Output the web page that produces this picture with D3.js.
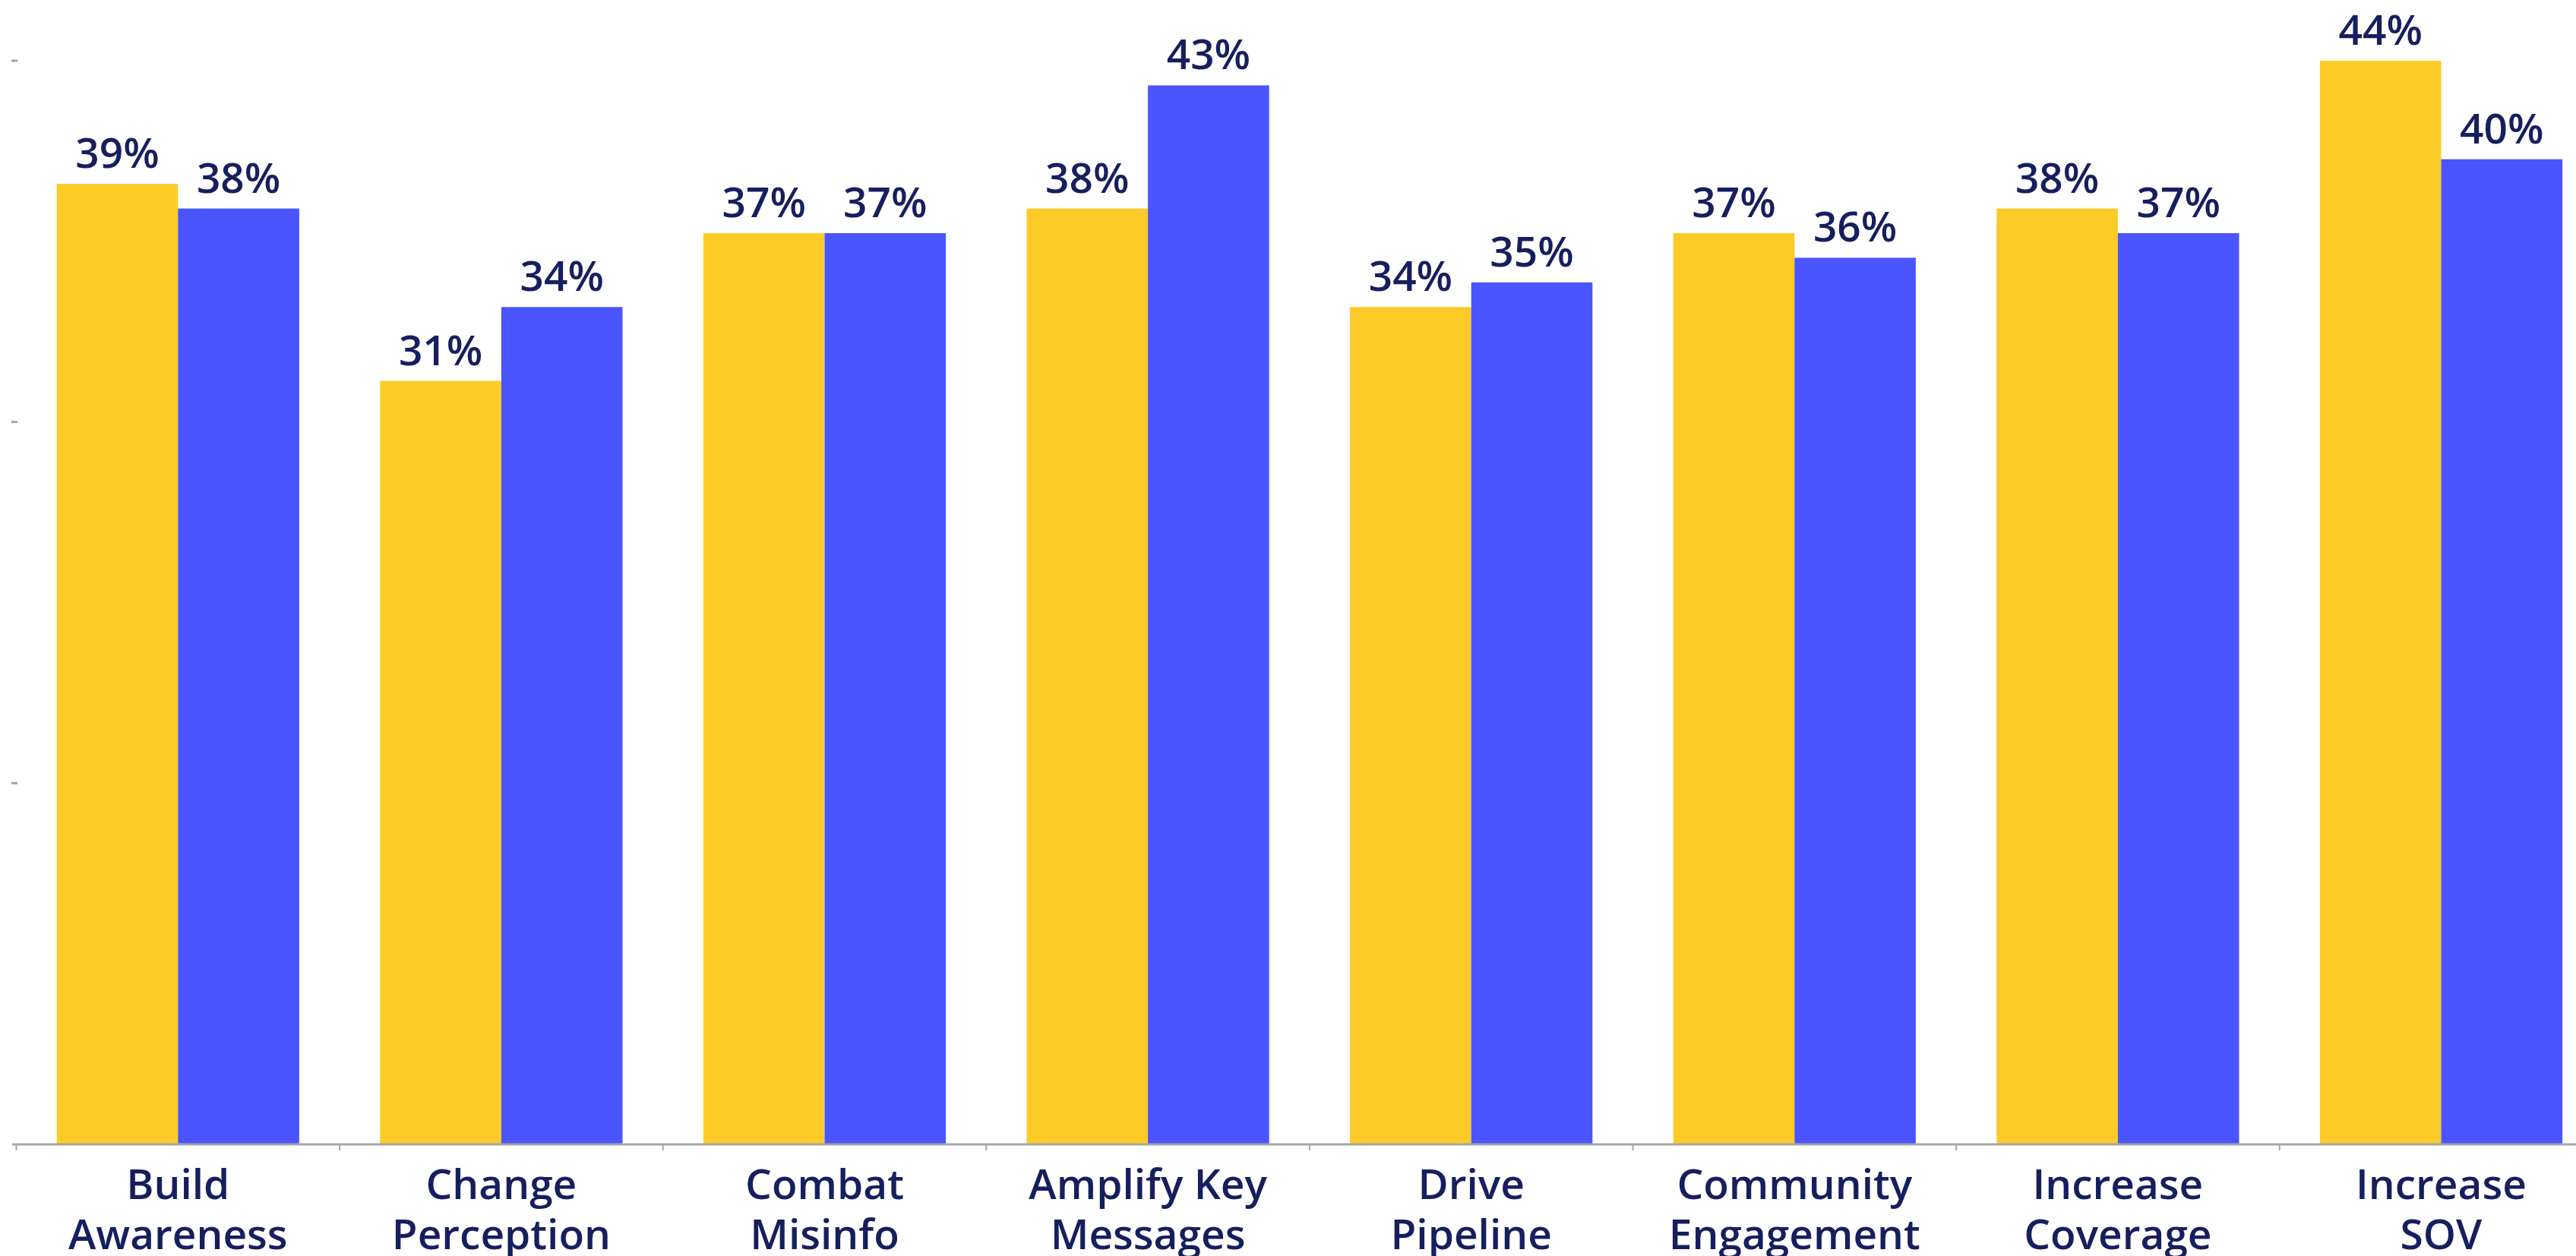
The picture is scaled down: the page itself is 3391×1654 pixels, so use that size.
<!DOCTYPE html>
<html>
<head>
<meta charset="utf-8">
<script src="https://cdn.jsdelivr.net/npm/d3@7"></script>
<style>
  html, body { margin: 0; padding: 0; background: #fff; }
  svg { display: block; }
</style>
</head>
<body>
<div id="chart"></div>
<script>
// data
var categories = [
  ["Build", "Awareness"],
  ["Change", "Perception"],
  ["Combat", "Misinfo"],
  ["Amplify Key", "Messages"],
  ["Drive", "Pipeline"],
  ["Community", "Engagement"],
  ["Increase", "Coverage"],
  ["Increase", "SOV"]
];
var seriesA = [0.39, 0.31, 0.37, 0.38, 0.34, 0.37, 0.38, 0.44];
var seriesB = [0.38, 0.34, 0.37, 0.43, 0.35, 0.36, 0.37, 0.40];
var seriesNames = ["a", "b"];
var colors = ["#FDCB27", "#4A55FF"];

var width = 3391;
var height = 1654;
var baseY = 1507;
var topY = 80;
var x0 = 21.5;
var step = 425.6;

var svg = d3.select("#chart").append("svg")
    .attr("width", width)
    .attr("height", height);

var keys = categories.map(function (c, i) { return "c" + i; });

var x = d3.scaleBand()
    .domain(keys)
    .range([x0, x0 + step * keys.length])
    .paddingInner(0.25)
    .paddingOuter(0.125);

var xs = d3.scaleBand()
    .domain(seriesNames)
    .range([0, x.bandwidth()])
    .padding(0);

var yMax = d3.max(seriesA.concat(seriesB));
var y = d3.scaleLinear()
    .domain([0, yMax])
    .range([baseY, topY]);

// rows for drawing
var rows = [];
for (var i = 0; i < keys.length; i++) {
  rows.push({ key: keys[i], s: "a", v: seriesA[i], col: colors[0] });
  rows.push({ key: keys[i], s: "b", v: seriesB[i], col: colors[1] });
}

// y ticks (short grey marks, no labels)
var yTicks = [yMax / 3, yMax * 2 / 3, yMax];
svg.selectAll(".ytick")
    .data(yTicks)
    .enter().append("line")
    .attr("x1", 15).attr("x2", 23)
    .attr("y1", function (d) { return y(d); })
    .attr("y2", function (d) { return y(d); })
    .attr("stroke", "#a6a6a6")
    .attr("stroke-width", 3);

// bars
svg.selectAll(".bar")
    .data(rows)
    .enter().append("rect")
    .attr("x", function (d) { return x(d.key) + xs(d.s); })
    .attr("y", function (d) { return y(d.v); })
    .attr("width", xs.bandwidth())
    .attr("height", function (d) { return baseY - y(d.v); })
    .attr("fill", function (d) { return d.col; });

// value labels
svg.selectAll(".val")
    .data(rows)
    .enter().append("text")
    .attr("x", function (d) { return x(d.key) + xs(d.s) + xs.bandwidth() / 2; })
    .attr("y", function (d) { return y(d.v) - 21; })
    .attr("text-anchor", "middle")
    .attr("font-family", "'Open Sans', sans-serif")
    .attr("font-weight", 600)
    .attr("font-size", 55)
    .attr("fill", "#161F5E")
    .text(function (d) { return Math.round(d.v * 100) + "%"; });

// x axis line
svg.append("line")
    .attr("x1", 16).attr("x2", width)
    .attr("y1", baseY).attr("y2", baseY)
    .attr("stroke", "#a6a6a6")
    .attr("stroke-width", 3);

// ticks at band boundaries
var gap = (x.step() - x.bandwidth()) / 2;
var bounds = keys.map(function (k) { return x(k) - gap; });
svg.selectAll(".xtick")
    .data(bounds)
    .enter().append("line")
    .attr("x1", function (d) { return d; })
    .attr("x2", function (d) { return d; })
    .attr("y1", baseY)
    .attr("y2", baseY + 8)
    .attr("stroke", "#a6a6a6")
    .attr("stroke-width", 2);

// category labels, two lines each
var lab = svg.selectAll(".cat")
    .data(categories)
    .enter().append("text")
    .attr("text-anchor", "middle")
    .attr("font-family", "'Open Sans', sans-serif")
    .attr("font-weight", 600)
    .attr("font-size", 55)
    .attr("fill", "#161F5E");

lab.append("tspan")
    .attr("x", function (d, i) { return x(keys[i]) + x.bandwidth() / 2; })
    .attr("y", 1579)
    .text(function (d) { return d[0]; });
lab.append("tspan")
    .attr("x", function (d, i) { return x(keys[i]) + x.bandwidth() / 2; })
    .attr("y", 1645)
    .text(function (d) { return d[1]; });
</script>
</body>
</html>
